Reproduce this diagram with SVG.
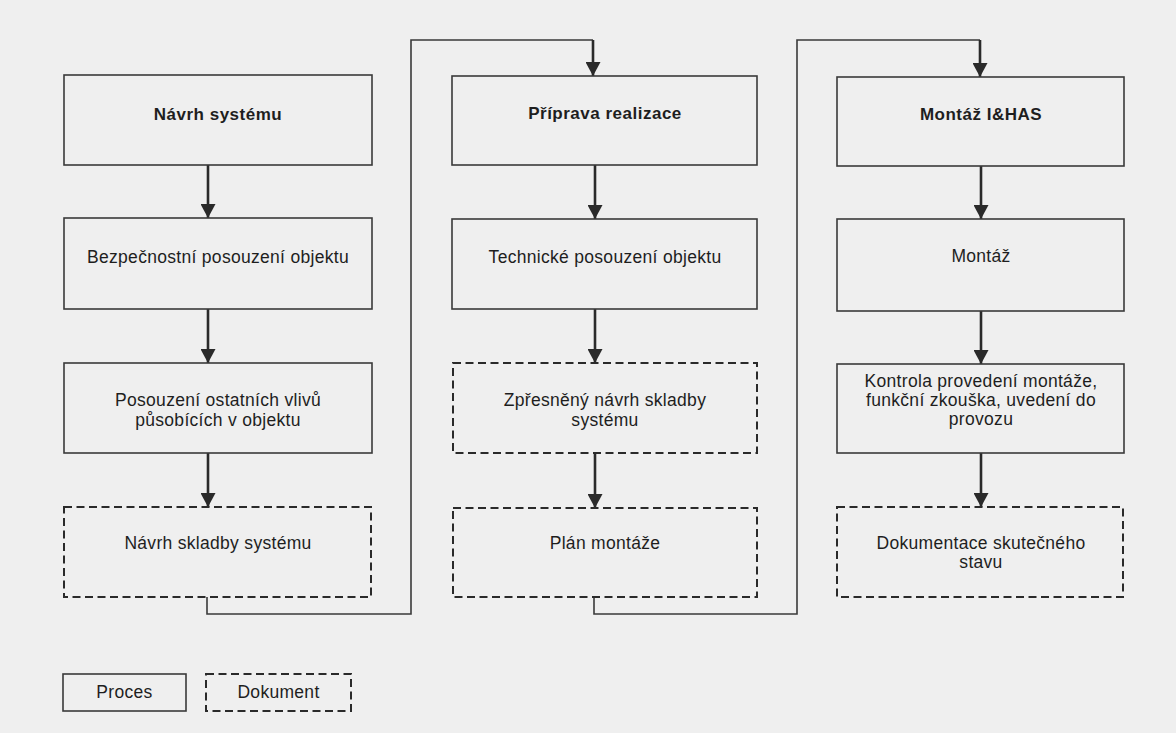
<svg xmlns="http://www.w3.org/2000/svg" width="1176" height="733" viewBox="0 0 1176 733">
<defs>
<style>
.bg{fill:#efefef}
.box{fill:#efefef;stroke:#3a3a3a;stroke-width:1.6}
.doc{fill:#efefef;stroke:#2a2a2a;stroke-width:2;stroke-dasharray:8 4.5}
.t{font-family:"Liberation Sans",Arial,sans-serif;font-size:17.5px;fill:#1e1e1e;text-anchor:middle;letter-spacing:0.3px}
.b{font-family:"Liberation Sans",Arial,sans-serif;font-size:17px;font-weight:bold;fill:#1e1e1e;text-anchor:middle;letter-spacing:0.5px}
.arr{stroke:#2a2a2a;stroke-width:2.6;fill:none;marker-end:url(#ah)}
.ln{stroke:#3a3a3a;stroke-width:1.6;fill:none}
</style>
<marker id="ah" viewBox="0 0 14 15" refX="14" refY="7.5" markerWidth="14" markerHeight="15" markerUnits="userSpaceOnUse" orient="auto">
<path d="M0,0 L14,7.5 L0,15 Z" fill="#2a2a2a"/>
</marker>
</defs>
<rect class="bg" x="0" y="0" width="1176" height="733"/>

<g id="connectors">
<line class="arr" x1="208" y1="165" x2="208" y2="218"/>
<line class="arr" x1="208" y1="309" x2="208" y2="363"/>
<line class="arr" x1="208" y1="453" x2="208" y2="507"/>
<polyline class="ln" points="207,597 207,614 411,614 411,40 593,40"/>
<line class="arr" x1="593" y1="40" x2="593" y2="76"/>

<line class="arr" x1="595" y1="165" x2="595" y2="219"/>
<line class="arr" x1="595" y1="309" x2="595" y2="363"/>
<line class="arr" x1="595" y1="453" x2="595" y2="508"/>
<polyline class="ln" points="594,597 594,614 797,614 797,40 980,40"/>
<line class="arr" x1="980" y1="40" x2="980" y2="77"/>

<line class="arr" x1="981" y1="166" x2="981" y2="219"/>
<line class="arr" x1="981" y1="311" x2="981" y2="364"/>
<line class="arr" x1="981" y1="453" x2="981" y2="507"/>
</g>

<g id="n1"><rect class="box" x="64" y="75" width="308" height="90"/><text class="b" x="218" y="120">Návrh systému</text></g>
<g id="n2"><rect class="box" x="64" y="218" width="308" height="91"/><text class="t" x="218" y="263">Bezpečnostní posouzení objektu</text></g>
<g id="n3"><rect class="box" x="64" y="363" width="308" height="90"/><text class="t" x="218" y="406">Posouzení ostatních vlivů</text><text class="t" x="218" y="425.5">působících v objektu</text></g>
<g id="n4"><rect class="doc" x="64" y="507" width="307" height="90"/><text class="t" x="218" y="549">Návrh skladby systému</text></g>

<g id="n5"><rect class="box" x="452" y="76" width="305" height="89"/><text class="b" x="605" y="119">Příprava realizace</text></g>
<g id="n6"><rect class="box" x="452" y="219" width="305" height="90"/><text class="t" x="605" y="263">Technické posouzení objektu</text></g>
<g id="n7"><rect class="doc" x="453" y="363" width="304" height="90"/><text class="t" x="605" y="406">Zpřesněný návrh skladby</text><text class="t" x="605" y="425.5">systému</text></g>
<g id="n8"><rect class="doc" x="453" y="508" width="304" height="89"/><text class="t" x="605" y="549">Plán montáže</text></g>

<g id="n9"><rect class="box" x="837" y="77" width="287" height="89"/><text class="b" x="981" y="120">Montáž I&amp;HAS</text></g>
<g id="n10"><rect class="box" x="837" y="219" width="287" height="92"/><text class="t" x="981" y="262">Montáž</text></g>
<g id="n11"><rect class="box" x="837" y="364" width="287" height="89"/><text class="t" x="981" y="387">Kontrola provedení montáže,</text><text class="t" x="981" y="406">funkční zkouška, uvedení do</text><text class="t" x="981" y="425">provozu</text></g>
<g id="n12"><rect class="doc" x="837" y="507" width="286" height="90"/><text class="t" x="981" y="549">Dokumentace skutečného</text><text class="t" x="981" y="568">stavu</text></g>

<g id="legend-proces"><rect class="box" x="63" y="674" width="123" height="37"/><text class="t" x="124.5" y="698">Proces</text></g>
<g id="legend-dokument"><rect class="doc" x="206" y="674" width="145" height="37"/><text class="t" x="278.5" y="698">Dokument</text></g>
</svg>
